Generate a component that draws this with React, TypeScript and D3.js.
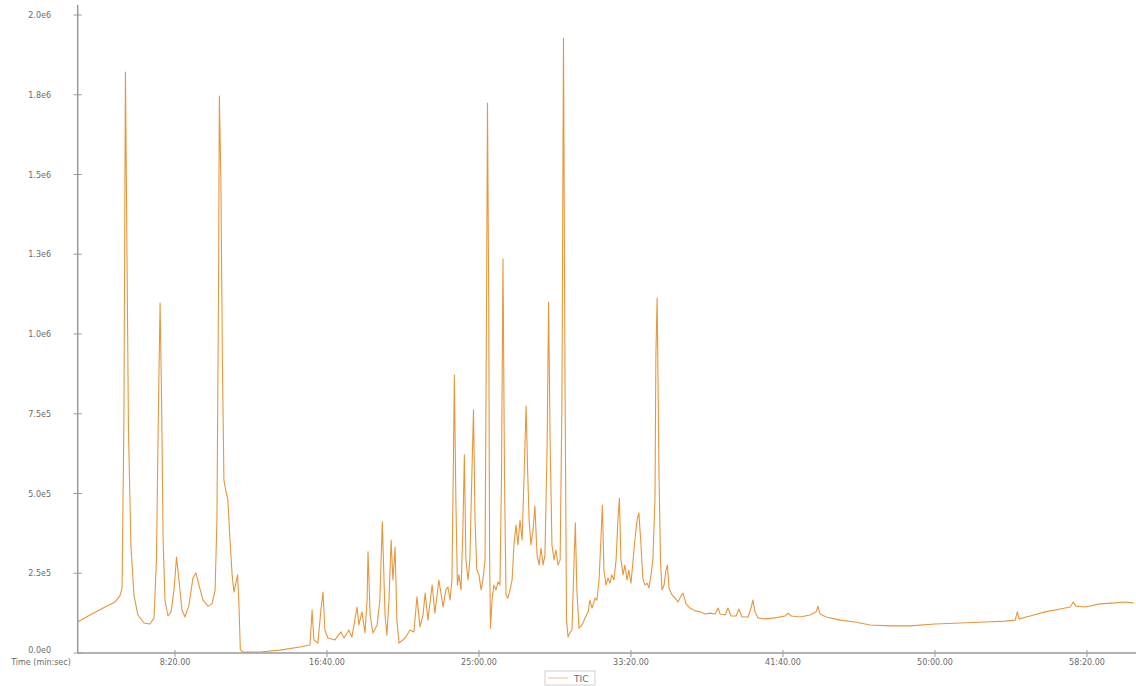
import React from "react";
import * as d3 from "d3";

// Retention time (seconds) and TIC intensity (counts)
const timeSec: number[] = [
  180, 220, 270, 303, 319, 326, 332, 337, 342, 347, 355, 365, 378, 398, 418, 431, 439, 446, 451, 456,
  461, 467, 477, 487, 497, 505, 513, 523, 533, 546, 559, 569, 579, 592, 609, 622, 632, 638, 643, 646,
  651, 656, 661, 668, 674, 681, 688, 694, 701, 706, 711, 715, 724, 780, 845, 911, 944, 951, 957, 970,
  980, 987, 993, 1003, 1026, 1046, 1056, 1072, 1082, 1099, 1105, 1115, 1125, 1132, 1135, 1142, 1151, 1165, 1174, 1182,
  1191, 1197, 1204, 1211, 1217, 1224, 1230, 1237, 1257, 1273, 1286, 1296, 1306, 1316, 1323, 1332, 1346, 1355, 1368, 1382,
  1391, 1398, 1405, 1411, 1416, 1419, 1424, 1429, 1434, 1441, 1447, 1452, 1457, 1464, 1470, 1477, 1482, 1487, 1493, 1500,
  1507, 1513, 1520, 1525, 1528, 1532, 1535, 1538, 1543, 1549, 1556, 1563, 1569, 1574, 1579, 1584, 1589, 1595, 1602, 1609,
  1615, 1622, 1628, 1635, 1642, 1648, 1655, 1660, 1665, 1671, 1678, 1684, 1691, 1698, 1704, 1711, 1717, 1724, 1729, 1734,
  1740, 1747, 1753, 1760, 1767, 1773, 1778, 1783, 1788, 1793, 1799, 1806, 1813, 1817, 1822, 1829, 1839, 1849, 1859, 1865,
  1872, 1882, 1888, 1895, 1901, 1906, 1911, 1918, 1924, 1931, 1937, 1944, 1951, 1957, 1962, 1967, 1974, 1980, 1987, 1993,
  2000, 2007, 2013, 2020, 2026, 2033, 2039, 2046, 2053, 2059, 2066, 2072, 2079, 2082, 2086, 2089, 2092, 2097, 2102, 2109,
  2115, 2120, 2125, 2135, 2145, 2155, 2161, 2171, 2181, 2194, 2211, 2227, 2244, 2260, 2277, 2287, 2293, 2310, 2319, 2329,
  2346, 2355, 2365, 2385, 2395, 2401, 2408, 2418, 2441, 2474, 2507, 2517, 2527, 2556, 2589, 2609, 2615, 2622, 2642, 2688,
  2737, 2787, 2853, 2918, 3000, 3083, 3165, 3231, 3264, 3271, 3277, 3313, 3362, 3412, 3445, 3455, 3464, 3494, 3543, 3593,
  3626, 3652,
];

const ticCounts: number[] = [
  97000, 119000, 144000, 160000, 179000, 204000, 730000, 1821000, 1263000, 699000, 339000, 182000, 119000, 94000, 91000, 110000, 292000, 793000, 1097000, 793000,
  354000, 166000, 116000, 129000, 198000, 301000, 229000, 135000, 113000, 150000, 235000, 251000, 213000, 166000, 147000, 154000, 198000, 417000, 1107000, 1746000,
  1483000, 918000, 542000, 505000, 480000, 354000, 245000, 191000, 223000, 245000, 135000, 9000, 3000, 3000, 9000, 19000, 25000, 135000, 41000, 31000,
  135000, 191000, 72000, 47000, 41000, 66000, 47000, 72000, 50000, 144000, 88000, 129000, 63000, 166000, 317000, 119000, 63000, 88000, 166000, 411000,
  119000, 56000, 166000, 354000, 229000, 332000, 103000, 31000, 47000, 72000, 66000, 176000, 82000, 119000, 188000, 103000, 213000, 125000, 229000, 144000,
  198000, 207000, 166000, 229000, 605000, 871000, 480000, 213000, 245000, 198000, 386000, 621000, 292000, 229000, 292000, 574000, 762000, 417000, 260000, 245000,
  198000, 229000, 292000, 1107000, 1724000, 1107000, 292000, 78000, 166000, 213000, 198000, 223000, 213000, 542000, 1235000, 542000, 182000, 172000, 198000, 229000,
  339000, 401000, 339000, 417000, 354000, 542000, 774000, 574000, 417000, 339000, 386000, 461000, 307000, 276000, 329000, 276000, 307000, 636000, 1100000, 668000,
  339000, 292000, 323000, 276000, 292000, 793000, 1928000, 856000, 103000, 50000, 63000, 72000, 292000, 408000, 198000, 78000, 88000, 110000, 129000, 166000,
  141000, 172000, 166000, 229000, 354000, 464000, 260000, 213000, 235000, 219000, 245000, 229000, 292000, 417000, 486000, 292000, 245000, 276000, 229000, 260000,
  219000, 292000, 354000, 417000, 439000, 339000, 235000, 213000, 219000, 204000, 245000, 292000, 480000, 934000, 1113000, 856000, 574000, 292000, 198000, 213000,
  260000, 276000, 204000, 182000, 172000, 160000, 172000, 188000, 154000, 141000, 132000, 129000, 122000, 125000, 122000, 141000, 122000, 119000, 141000, 116000,
  116000, 138000, 113000, 113000, 141000, 166000, 129000, 110000, 107000, 110000, 116000, 125000, 116000, 113000, 119000, 129000, 147000, 122000, 113000, 103000,
  97000, 88000, 85000, 85000, 91000, 94000, 97000, 100000, 103000, 129000, 107000, 116000, 129000, 138000, 144000, 160000, 147000, 144000, 154000, 157000,
  160000, 157000,
];

const yTickValues: number[] = [0, 250000, 500000, 750000, 1000000, 1250000, 1500000, 1750000, 2000000];
const yTickLabels: string[] = ["0.0e0", "2.5e5", "5.0e5", "7.5e5", "1.0e6", "1.3e6", "1.5e6", "1.8e6", "2.0e6"];
const xTickValues: number[] = [500, 1000, 1500, 2000, 2500, 3000, 3500];
const xTickLabels: string[] = ["8:20.00", "16:40.00", "25:00.00", "33:20.00", "41:40.00", "50:00.00", "58:20.00"];
const seriesName = "TIC";
const axisTitle = "Time (min:sec)";

const W = 1136;
const H = 686;

export default function App() {
  const x = d3.scaleLinear().domain([180, 3660]).range([77.7, 1135.6]);
  const y = d3.scaleLinear().domain([0, 2000000]).range([653, 15]);
  const pts: [number, number][] = timeSec.map((t, i) => [t, ticCounts[i]]);
  const line = d3
    .line<[number, number]>()
    .x((d) => x(d[0]))
    .y((d) => y(d[1]));
  const axisColor = "#9a9a9a";
  const textColor = "#6a6a6a";
  const lineColor = "#e8963c";
  const font = "DejaVu Sans, sans-serif";
  const x0 = x(180);
  const y0 = y(0);
  return (
    <svg
      width={W}
      height={H}
      style={{ position: "absolute", left: 0, top: 0, background: "#fff" }}
      fontFamily={font}
    >
      {/* data */}
      <path d={line(pts) || ""} fill="none" stroke={lineColor} strokeWidth={1.1} strokeLinejoin="round" />
      {/* y axis */}
      <line x1={x0} x2={x0} y1={5} y2={y0} stroke={axisColor} strokeWidth={1.5} />
      {yTickValues.map((v, i) => (
        <g key={"y" + i}>
          <line x1={x0 - 4} x2={x0 + 4} y1={y(v)} y2={y(v)} stroke={axisColor} strokeWidth={1} />
          <text x={51} y={y(v) + (i === 0 ? 0 : 3)} textAnchor="end" fontSize={8} fill={textColor}>
            {yTickLabels[i]}
          </text>
        </g>
      ))}
      {/* x axis */}
      <line x1={x0} x2={W} y1={y0} y2={y0} stroke={axisColor} strokeWidth={1.5} />
      {xTickValues.map((v, i) => (
        <g key={"x" + i}>
          <line x1={x(v)} x2={x(v)} y1={y0 - 3} y2={y0 + 4} stroke={axisColor} strokeWidth={1} />
          <text x={x(v)} y={y0 + 12} textAnchor="middle" fontSize={8} fill={textColor}>
            {xTickLabels[i]}
          </text>
        </g>
      ))}
      <text x={41} y={y0 + 12} textAnchor="middle" fontSize={8} fill={textColor}>
        {axisTitle}
      </text>
      {/* legend */}
      <g>
        <rect x={545} y={671} width={50} height={14} fill="#fff" stroke="#cfcfcf" strokeWidth={1} />
        <line x1={548} x2={568} y1={678} y2={678} stroke={lineColor} strokeWidth={1} opacity={0.6} />
        <text x={574} y={681.5} fontSize={9} fill={textColor}>
          {seriesName}
        </text>
      </g>
    </svg>
  );
}
